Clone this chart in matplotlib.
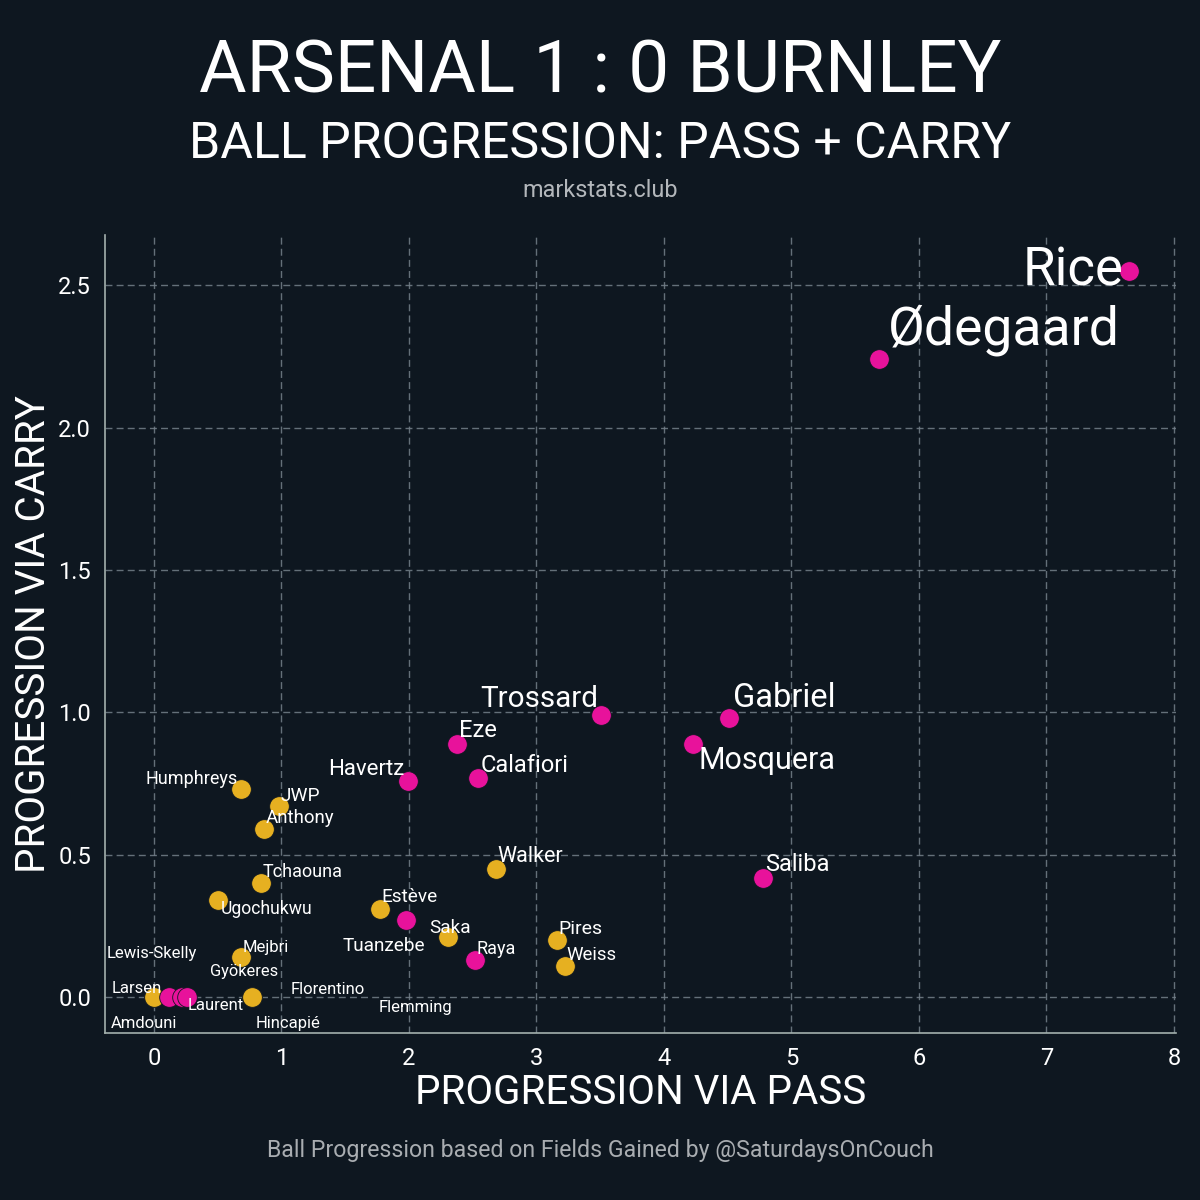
import matplotlib
matplotlib.use("Agg")
import matplotlib.pyplot as plt

plt.rcParams['font.family'] = ['Roboto', 'DejaVu Sans']

# Arsenal players (pink)
ars_names = ['Rice', 'Ødegaard', 'Trossard', 'Gabriel', 'Mosquera', 'Eze', 'Calafiori',
             'Havertz', 'Saliba', 'Saka', 'Raya', 'Lewis-Skelly', 'Gyökeres', 'Hincapié']
ars_pass = [7.65, 5.69, 3.51, 4.51, 4.23, 2.38, 2.54, 1.99, 4.78, 1.98, 2.52, 0.12, 0.22, 0.26]
ars_carry = [2.55, 2.24, 0.99, 0.98, 0.89, 0.89, 0.77, 0.76, 0.42, 0.27, 0.13, 0.0, 0.0, 0.0]

# Burnley players (yellow)
bur_names = ['Walker', 'Humphreys', 'JWP', 'Anthony', 'Tchaouna', 'Ugochukwu', 'Estève',
             'Tuanzebe', 'Pires', 'Weiss', 'Mejbri', 'Laurent', 'Larsen', 'Amdouni',
             'Florentino', 'Flemming']
bur_pass = [2.68, 0.68, 0.98, 0.86, 0.84, 0.50, 1.77, 2.31, 3.16, 3.22, 0.68, 0.77, 0.0, 0.0,
            0.77, 0.77]
bur_carry = [0.45, 0.73, 0.67, 0.59, 0.40, 0.34, 0.31, 0.21, 0.20, 0.11, 0.14, 0.0, 0.0, 0.0,
             0.0, 0.0]

# label placement: (dx px, dy px, ha, fontsize)
label_style = {
    'Rice': (-6, -15, 'right', 38), 'Ødegaard': (8, 15, 'left', 38.5),
    'Trossard': (-3, 8, 'right', 21.3), 'Gabriel': (4, 11, 'left', 23.5),
    'Mosquera': (5, -25, 'left', 22), 'Eze': (2, 7, 'left', 17),
    'Calafiori': (3, 6, 'left', 17), 'Havertz': (-3, 6, 'right', 16),
    'Saliba': (2, 7, 'left', 17), 'Saka': (23, -13, 'left', 13.7),
    'Raya': (1, 6, 'left', 13), 'Lewis-Skelly': (-63, 39, 'left', 12),
    'Gyökeres': (28, 21, 'left', 11.8), 'Hincapié': (69, -31, 'left', 12),
    'Walker': (2, 7, 'left', 15.5), 'Humphreys': (-3, 5, 'right', 13),
    'JWP': (2, 5, 'left', 13.8), 'Anthony': (2, 6, 'left', 13.4),
    'Tchaouna': (2, 6, 'left', 13), 'Ugochukwu': (3, -14, 'left', 12.7),
    'Estève': (2, 7, 'left', 13.7), 'Tuanzebe': (-23, -14, 'right', 13.7),
    'Pires': (2, 6, 'left', 14), 'Weiss': (2, 6, 'left', 13.4),
    'Mejbri': (2, 5, 'left', 12), 'Laurent': (-65, -13, 'left', 12),
    'Larsen': (-42, 4, 'left', 12), 'Amdouni': (-43, -31, 'left', 12),
    'Florentino': (38, 3, 'left', 12), 'Flemming': (126, -15, 'left', 12),
}

BG = '#0e1720'
PINK = '#e8129b'
YELLOW = '#e6b021'

fig = plt.figure(figsize=(12, 12), dpi=100, facecolor=BG)
ax = fig.add_axes([0.0875, 0.139, 0.8925, 0.665], facecolor=BG)

ax.scatter(bur_pass, bur_carry, s=200, c=YELLOW, edgecolors=BG, linewidths=0.6, zorder=3)
ax.scatter(ars_pass, ars_carry, s=200, c=PINK, edgecolors=BG, linewidths=0.6, zorder=3)

for names, xs, ys in [(ars_names, ars_pass, ars_carry), (bur_names, bur_pass, bur_carry)]:
    for n, x, y in zip(names, xs, ys):
        dx, dy, ha, fs = label_style[n]
        ax.annotate(n, (x, y), xytext=(dx, dy), textcoords='offset pixels',
                    ha=ha, va='baseline', fontsize=fs, color='white', zorder=4)

ax.set_xlim(-0.384, 8.016)
ax.set_ylim(-0.126, 2.675)
ax.set_xticks(range(0, 9))
ax.set_yticks([0.0, 0.5, 1.0, 1.5, 2.0, 2.5])
ax.set_yticklabels(['0.0', '0.5', '1.0', '1.5', '2.0', '2.5'])
ax.tick_params(colors='white', labelsize=17, length=0, pad=10)
ax.grid(True, color='#74808a', linestyle=(0, (5, 3)), linewidth=1.0, alpha=0.85)
ax.set_axisbelow(True)
for side in ['top', 'right']:
    ax.spines[side].set_visible(False)
for side in ['left', 'bottom']:
    ax.spines[side].set_color('#a3b0ad')
    ax.spines[side].set_linewidth(1.2)

ax.set_xlabel('PROGRESSION VIA PASS', fontsize=29, color='white', labelpad=2)
ax.set_ylabel('PROGRESSION VIA CARRY', fontsize=29, color='white', labelpad=4)

fig.text(0.5, 0.923, 'ARSENAL 1 : 0 BURNLEY', ha='center', va='baseline',
         fontsize=52.5, color='white')
fig.text(0.5, 0.868, 'BALL PROGRESSION: PASS + CARRY', ha='center', va='baseline',
         fontsize=36, color='white')
fig.text(0.5, 0.836, 'markstats.club', ha='center', va='baseline',
         fontsize=16.8, color='#b3b7bb')
fig.text(0.5, 0.036, 'Ball Progression based on Fields Gained by @SaturdaysOnCouch',
         ha='center', va='baseline', fontsize=16.7, color='#a9adb1')

fig.savefig('out.png', dpi=100, facecolor=BG)
